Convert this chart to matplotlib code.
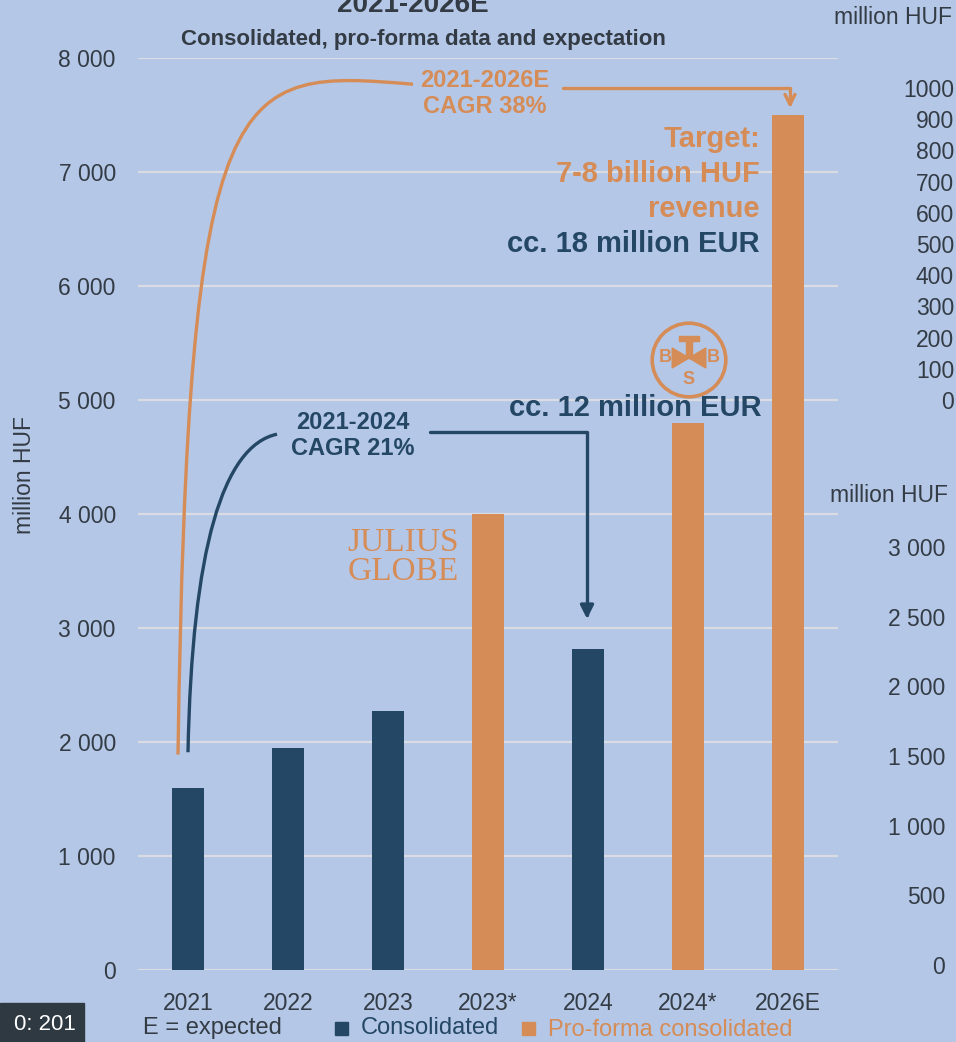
import matplotlib.pyplot as plt
import numpy as np
from matplotlib.path import Path
from matplotlib.patches import FancyArrowPatch, PathPatch, Rectangle, Circle, Polygon

plt.rcParams['font.family'] = ['Liberation Sans', 'DejaVu Sans']

# data
years = ['2021', '2022', '2023', '2023*', '2024', '2024*', '2026E']
revenue = [1600, 1950, 2275, 4000, 2820, 4800, 7500]
kind = ['cons', 'cons', 'cons', 'pro', 'cons', 'pro', 'pro']
y_ticks = [0, 1000, 2000, 3000, 4000, 5000, 6000, 7000, 8000]
side_ticks_a = [0, 100, 200, 300, 400, 500, 600, 700, 800, 900, 1000]
side_ticks_b = [0, 500, 1000, 1500, 2000, 2500, 3000]

NAVY = '#244766'
ORANGE = '#d68c56'
BG = '#b4c7e7'
GRID = '#d9dde3'
TXT = '#333b44'

W, H = 956, 1042
fig = plt.figure(figsize=(W / 100, H / 100), dpi=100)
fig.patch.set_facecolor(BG)


def fx(px):
    return px / W


def fy(py):
    return 1 - py / H


ax = fig.add_axes([fx(138), fy(970), fx(838) - fx(138), fy(58) - fy(970)])
ax.set_facecolor(BG)
for s in ax.spines.values():
    s.set_visible(False)
ax.set_xlim(-0.5, len(years) - 0.5)
ax.set_ylim(0, 8000)
for t in y_ticks:
    ax.axhline(t, color=GRID, lw=1.6, zorder=0)

x = np.arange(len(years))
cols = [NAVY if k == 'cons' else ORANGE for k in kind]
ax.bar(x, revenue, width=0.32, color=cols, zorder=2)

ax.set_xticks(x)
ax.set_xticklabels(years, fontsize=16.5, color=TXT)
ax.set_yticks(y_ticks)
ax.set_yticklabels([f'{t:,}'.replace(',', ' ') for t in y_ticks], fontsize=16.5, color=TXT)
ax.tick_params(length=0)
ax.tick_params(axis='y', pad=16)
ax.tick_params(axis='x', pad=16)
fig.text(fx(25), fy(475), 'million HUF', rotation=90, ha='center', va='center',
         fontsize=16.5, color=TXT)

# titles (cut off at top)
fig.text(fx(413), fy(12), '2021-2026E', ha='center', va='baseline',
         fontsize=20, fontweight='bold', color=TXT)
fig.text(fx(423), fy(39), 'Consolidated, pro-forma data and expectation', ha='center',
         va='center', fontsize=16, fontweight='bold', color=TXT)

# orange CAGR curve 2021 -> 2026E
i0, i6, i4 = 0, len(years) - 1, 4
curve = Path([(-0.1, revenue[i0] + 290), (0.0, 7920), (0.45, 7900), (2.25, 7770)],
             [Path.MOVETO, Path.CURVE4, Path.CURVE4, Path.CURVE4])
ax.add_patch(PathPatch(curve, fill=False, ec=ORANGE, lw=2.4, zorder=3))
ax.text(2.97, 7690, '2021-2026E\nCAGR 38%', ha='center', va='center', fontsize=17,
        fontweight='bold', color=ORANGE, linespacing=1.2)
ax.add_patch(FancyArrowPatch(path=Path([(3.75, 7737), (i6 + 0.02, 7737), (i6 + 0.02, revenue[i6] + 60)]),
                             arrowstyle='->', mutation_scale=18, color=ORANGE, lw=2.4, zorder=3))

# navy CAGR curve 2021 -> 2024
curve2 = Path([(0.0, revenue[i0] + 310), (0.04, 3700), (0.35, 4600), (0.89, 4700)],
              [Path.MOVETO, Path.CURVE4, Path.CURVE4, Path.CURVE4])
ax.add_patch(PathPatch(curve2, fill=False, ec=NAVY, lw=2.4, zorder=3))
ax.text(1.65, 4690, '2021-2024\nCAGR 21%', ha='center', va='center', fontsize=17,
        fontweight='bold', color=NAVY, linespacing=1.2)
ax.add_patch(FancyArrowPatch(path=Path([(2.42, 4719), (i4 - 0.01, 4719), (i4 - 0.01, revenue[i4] + 260)]),
                             arrowstyle='-|>', mutation_scale=20, color=NAVY, lw=2.4, zorder=3))

# target texts
ax.text(5.72, 6983, 'Target:\n7-8 billion HUF\nrevenue', ha='right', va='center', fontsize=21,
        fontweight='bold', color=ORANGE, linespacing=1.3)
ax.text(5.72, 6368, 'cc. 18 million EUR', ha='right', va='center', fontsize=21,
        fontweight='bold', color=NAVY)
ax.text(5.74, 4930, 'cc. 12 million EUR', ha='right', va='center', fontsize=21,
        fontweight='bold', color=NAVY)

# Julius Globe logo
fig.text(fx(403), fy(543), 'JULIUS', ha='center', va='center', fontsize=24,
         family='Liberation Serif', color=ORANGE)
fig.text(fx(403), fy(572), 'GLOBE', ha='center', va='center', fontsize=24,
         family='Liberation Serif', color=ORANGE)

# BSB logo
lg = fig.add_axes([fx(649), fy(400), fx(80), 80 / H])
lg.set_xlim(-1, 1)
lg.set_ylim(-1, 1)
lg.set_aspect('equal')
lg.axis('off')
lg.add_patch(Circle((0, 0), 0.92, fill=False, ec=ORANGE, lw=2.6))
lg.add_patch(Polygon([(-0.42, 0.3), (0, 0.05), (-0.42, -0.2)], color=ORANGE))
lg.add_patch(Polygon([(0.42, 0.3), (0, 0.05), (0.42, -0.2)], color=ORANGE))
lg.add_patch(Rectangle((-0.07, 0.05), 0.14, 0.5, color=ORANGE))
lg.add_patch(Rectangle((-0.24, 0.48), 0.48, 0.13, color=ORANGE))
lg.text(-0.6, 0.05, 'B', ha='center', va='center', fontsize=13, fontweight='bold', color=ORANGE)
lg.text(0.6, 0.05, 'B', ha='center', va='center', fontsize=13, fontweight='bold', color=ORANGE)
lg.text(0, -0.5, 'S', ha='center', va='center', fontsize=13, fontweight='bold', color=ORANGE)

# side axes from neighbouring charts
side_a = fig.add_axes([fx(954), fy(400), 0.0001, fy(88) - fy(400)])
side_b = fig.add_axes([fx(945), fy(965), 0.0001, fy(547) - fy(965)])
for a, ticks, lab in [(side_a, side_ticks_a, [str(t) for t in side_ticks_a]),
                      (side_b, side_ticks_b, [f'{t:,}'.replace(',', ' ') for t in side_ticks_b])]:
    a.set_ylim(ticks[0], ticks[-1])
    a.set_yticks(ticks)
    a.set_yticklabels(lab, fontsize=16.5, color=TXT)
    a.tick_params(length=0, pad=0)
    a.set_xticks([])
    for s in a.spines.values():
        s.set_visible(False)
    a.patch.set_alpha(0)
fig.text(fx(952), fy(18), 'million HUF', ha='right', va='center', fontsize=16.5, color=TXT)
fig.text(fx(948), fy(495), 'million HUF', ha='right', va='center', fontsize=16.5, color=TXT)

# legend
fig.text(fx(143), fy(1028), 'E = expected', ha='left', va='center', fontsize=17, color=TXT)
fig.patches.append(Rectangle((fx(335), fy(1035)), fx(13), 13 / H, color=NAVY, transform=fig.transFigure))
fig.text(fx(361), fy(1028), 'Consolidated', ha='left', va='center', fontsize=17, color=NAVY)
fig.patches.append(Rectangle((fx(522), fy(1035)), fx(13), 13 / H, color=ORANGE, transform=fig.transFigure))
fig.text(fx(548), fy(1030), 'Pro-forma consolidated', ha='left', va='center', fontsize=17, color=ORANGE)

# dark label box at bottom left
fig.patches.append(Rectangle((0, 0), fx(84), 39 / H, color='#2e3942', transform=fig.transFigure))
fig.text(fx(76), fy(1024), '0: 201', ha='right', va='center', fontsize=16, color='white')

fig.savefig('out.png', dpi=100, facecolor=BG)
